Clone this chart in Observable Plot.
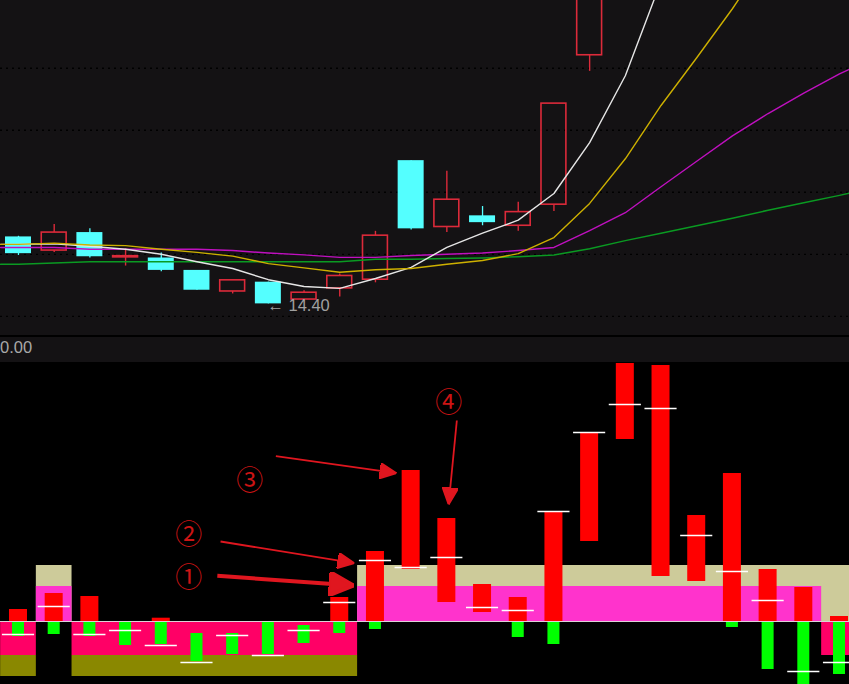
<!DOCTYPE html>
<html><head><meta charset="utf-8">
<script src="https://cdn.jsdelivr.net/npm/d3@7"></script>
<script src="https://cdn.jsdelivr.net/npm/@observablehq/plot@0.6"></script>
<style>
html,body{margin:0;padding:0;background:#000;width:849px;height:684px;overflow:hidden;}
#top{height:335px;background:#141214;}
#sep{height:2px;background:#000;}
#strip{height:25px;background:#141214;position:relative;overflow:hidden;}
#strip span{position:absolute;left:0px;top:2px;font-family:"Liberation Sans";font-size:16.5px;line-height:16.5px;color:#a8a8a8;}
#bottom{height:322px;background:#000;}
svg{display:block}
</style></head><body>
<div id="top"></div><div id="sep"></div><div id="strip"><span id="lbl"></span></div><div id="bottom"></div>
<script>
// ---------- data: top panel (price) ----------
const candleIndex = [0,1,2,3,4,5,6,7,8,9,10,11,12,13,14,15,16];
const candleOpen  = [15.48,15.26,15.55,15.15,15.14,14.94,14.60,14.75,14.47,14.65,14.79,16.71,15.64,15.82,15.66,16.00,18.41];
const candleClose = [15.21,15.55,15.16,15.17,14.94,14.62,14.78,14.40,14.58,14.85,15.50,15.61,16.08,15.71,15.88,17.63,19.39];
const candleHigh  = [15.49,15.68,15.61,15.29,15.22,14.94,14.78,14.75,14.61,14.88,15.57,16.71,16.54,15.97,16.04,17.63,19.39];
const candleLow   = [15.18,15.23,15.14,15.01,14.92,14.62,14.56,14.40,14.44,14.51,14.74,15.59,15.55,15.66,15.57,15.89,18.15];

const periods = [0,1,2,3,4,5,6,7,8,9,10,11,12,13,14,15,16,17,18,19,20,21,22,23];
const ma5  = [15.36,15.37,15.33,15.28,15.20,15.08,14.97,14.79,14.68,14.65,14.81,14.99,15.31,15.54,15.75,16.18,17.00,18.08,19.60,null,null,null,null,null];
const ma10 = [15.36,15.38,15.35,15.34,15.28,15.23,15.17,15.05,14.98,14.91,14.95,14.97,15.04,15.10,15.21,15.47,16.02,16.74,17.60,18.37,19.16,20.02,null,null];
const ma20 = [15.31,15.31,15.28,15.28,15.28,15.28,15.26,15.22,15.19,15.15,15.15,15.18,15.20,15.22,15.26,15.31,15.58,15.87,16.29,16.70,17.11,17.47,17.80,18.11];
const ma60 = [15.04,15.06,15.08,15.08,15.08,15.08,15.08,15.08,15.08,15.08,15.12,15.12,15.13,15.14,15.16,15.19,15.29,15.42,15.54,15.66,15.78,15.91,16.03,16.15];
// readings at the left (-0.5) and right (23.3) chart edges
const edgeIndex = [-0.5, 23.3];
const ma5Edge  = [15.36, null];
const ma10Edge = [15.36, null];
const ma20Edge = [15.31, 18.19];
const ma60Edge = [15.04, 16.19];
const priceGrid = [14.2, 15.2, 16.2, 17.2, 18.2];
const lowMarkIndex = 7;
const stripLabel = "0.00";

// ---------- data: bottom panel (indicator) ----------
const redLo   = [0,0,0,null,0,null,null,null,null,0,0,5.2,1.9,0.9,0,0,8.0,18.2,4.5,4.0,0,0,0,0];
const redHi   = [1.2,2.8,2.5,null,0.33,null,null,null,null,2.4,7.0,15.1,10.3,3.7,2.4,10.9,18.9,25.8,25.6,10.6,14.8,5.2,3.4,0.5];
const greenHi = [0,0,0,0,0,-1.2,-1.2,0,-0.4,0,0,null,null,null,0,0,null,null,null,null,0,0,0,0];
const greenLo = [-1.5,-1.3,-1.5,-2.4,-2.3,-4.0,-3.3,-3.3,-2.2,-1.2,-0.8,null,null,null,-1.6,-2.3,null,null,null,null,-0.6,-4.8,-6.5,-5.3];
const whiteTick = [-1.3,1.5,-1.3,-0.9,-2.4,-4.1,-1.4,-3.4,-0.9,1.9,6.1,5.4,6.4,1.4,1.1,11.0,18.9,21.7,21.3,8.6,5.0,2.1,-5.0,-4.1];
const bandState = ["dn","up","dn","dn","dn","dn","dn","dn","dn","dn","up","up","up","up","up","up","up","up","up","up","up","up","up","mix"];
const khakiTop = 5.6, magentaTop = 3.5, pinkBottom = -3.4, oliveBottom = -5.5;

const noteText = ["①","②","③","④"];
const noteX = [4.77, 4.77, 6.48, 12.05];
const noteV = [4.27, 8.6, 14.0, 21.83];
const arrowFromX = [5.57, 5.66, 7.21, 12.28];
const arrowFromV = [4.57, 8.0, 16.53, 20.1];
const arrowToX   = [9.39, 9.41, 10.59, 12.05];
const arrowToV   = [3.6, 5.83, 14.83, 11.7];

// ---------- colours ----------
const RED_C = "#dc2a3a", CYAN = "#54ffff";
const X_DOMAIN = [-0.504, 23.28];

// ---------- build rows ----------
const candles = candleIndex.map((i, k) => ({i, open: candleOpen[k], close: candleClose[k], high: candleHigh[k], low: candleLow[k]}));
const upC = candles.filter(d => d.close >= d.open);
const dnC = candles.filter(d => d.close < d.open);
function series(vals, edge) {
  const rows = periods.map((i, k) => ({i, v: vals[k]}));
  if (edge[0] != null) rows.unshift({i: edgeIndex[0], v: edge[0]});
  if (edge[1] != null) rows.push({i: edgeIndex[1], v: edge[1]});
  return rows.filter(d => d.v != null);
}
const s5 = series(ma5, ma5Edge), s10 = series(ma10, ma10Edge), s20 = series(ma20, ma20Edge), s60 = series(ma60, ma60Edge);

const topChart = Plot.plot({
  width: 849, height: 335, margin: 0,
  x: {domain: X_DOMAIN, axis: null},
  y: {domain: [13.89, 19.293], axis: null},
  style: {background: "#141214", overflow: "hidden"},
  marks: [
    Plot.ruleY(priceGrid, {stroke: "#000", strokeWidth: 1.3, strokeDasharray: "2,4"}),
    // cyan (down) candles
    Plot.ruleX(dnC, {x: "i", y1: "low", y2: "high", stroke: CYAN, strokeWidth: 1.3, clip: true}),
    Plot.rect(dnC, {x1: d => d.i - 0.5, x2: d => d.i + 0.5, y1: "open", y2: "close", insetLeft: 4.85, insetRight: 4.85, fill: CYAN, clip: true}),
    // red (up) hollow candles
    Plot.ruleX(upC, {x: "i", y1: d => Math.max(d.open, d.close), y2: "high", stroke: RED_C, strokeWidth: 1.4, clip: true}),
    Plot.ruleX(upC, {x: "i", y1: "low", y2: d => Math.min(d.open, d.close), stroke: RED_C, strokeWidth: 1.4, clip: true}),
    Plot.rect(upC, {x1: d => d.i - 0.5, x2: d => d.i + 0.5, y1: "open", y2: "close", insetLeft: 5.4, insetRight: 5.4, fill: "none", stroke: RED_C, strokeWidth: 1.6, clip: true}),
    // moving averages
    Plot.line(s60, {x: "i", y: "v", stroke: "#0a9a22", strokeWidth: 1.5, clip: true}),
    Plot.line(s20, {x: "i", y: "v", stroke: "#c010c0", strokeWidth: 1.4, clip: true}),
    Plot.line(s5,  {x: "i", y: "v", stroke: "#e6e6e6", strokeWidth: 1.4, clip: true}),
    Plot.line(s10, {x: "i", y: "v", stroke: "#cdb000", strokeWidth: 1.4, clip: true}),
    Plot.text([candles[lowMarkIndex]], {x: "i", y: "low", text: d => "← " + d.low.toFixed(2), textAnchor: "start", lineAnchor: "middle", dx: -1, dy: 2, fill: "#a0a0a0", fontSize: 16.5, fontFamily: "Liberation Sans"})
  ]
});
document.getElementById("top").appendChild(topChart);
document.getElementById("lbl").textContent = stripLabel;

// bands merged into runs
function runs(test) {
  const out = []; let start = null;
  periods.forEach((i, k) => {
    const on = test(bandState[k]);
    if (on && start == null) start = i;
    if ((!on || k === periods.length - 1) && start != null) {
      const end = on ? i : periods[k - 1];
      out.push({a: start - 0.5, b: end + 0.5}); start = null;
    }
  });
  return out;
}
const khakiRuns = runs(s => s === "up" || s === "mix");
const magentaRuns = runs(s => s === "up");
const pinkRuns = runs(s => s === "dn" || s === "mix");
const oliveRuns = runs(s => s === "dn");

const reds = periods.map((i, k) => ({i, lo: redLo[k], hi: redHi[k]})).filter(d => d.hi != null);
const greens = periods.map((i, k) => ({i, hi: greenHi[k], lo: greenLo[k]})).filter(d => d.lo != null);
const ticks = periods.map((i, k) => ({i, v: whiteTick[k]}));
const notes = noteText.map((t, k) => ({t, x: noteX[k], v: noteV[k]}));
const arrows = noteText.map((t, k) => ({x1: arrowFromX[k], y1: arrowFromV[k], x2: arrowToX[k], y2: arrowToV[k]}));

function headMarker(len, wid) {
  return (color) => {
    const m = d3.create("svg:marker")
      .attr("viewBox", `0 ${-wid / 2} ${len} ${wid}`)
      .attr("markerWidth", len).attr("markerHeight", wid)
      .attr("markerUnits", "userSpaceOnUse")
      .attr("refX", len).attr("refY", 0)
      .attr("orient", "auto");
    m.append("path").attr("d", `M0,${-wid / 2}L${len},0L0,${wid / 2}Z`).attr("fill", color);
    return m.node();
  };
}
const ARROW = "#e0161f";

const bottomChart = Plot.plot({
  width: 849, height: 322, margin: 0,
  x: {domain: X_DOMAIN, axis: null},
  y: {domain: [-6.3, 25.9], axis: null},
  style: {background: "#000", overflow: "hidden"},
  marks: [
    Plot.rect(khakiRuns, {x1: "a", x2: "b", y1: 0, y2: () => khakiTop, fill: "#cdcb9a", clip: true}),
    Plot.rect(magentaRuns, {x1: "a", x2: "b", y1: 0, y2: () => magentaTop, fill: "#ff33cc", clip: true}),
    Plot.rect(pinkRuns, {x1: "a", x2: "b", y1: 0, y2: () => pinkBottom, fill: "#ff0066", clip: true}),
    Plot.rect(oliveRuns, {x1: "a", x2: "b", y1: () => pinkBottom, y2: () => oliveBottom, fill: "#8a8800", clip: true}),
    Plot.rect(reds, {x1: d => d.i - 0.5, x2: d => d.i + 0.5, y1: "lo", y2: "hi", insetLeft: 8.85, insetRight: 8.85, fill: "#ff0000", clip: true}),
    Plot.rect(greens, {x1: d => d.i - 0.5, x2: d => d.i + 0.5, y1: "hi", y2: "lo", insetLeft: 11.85, insetRight: 11.85, fill: "#00ff00", clip: true}),
    Plot.ruleY([0], {stroke: "#ddd0d8", strokeWidth: 1}),
    Plot.ruleY(ticks, {y: "v", x1: d => d.i - 0.45, x2: d => d.i + 0.45, stroke: "#ffffff", strokeWidth: 1.6, clip: true}),
    Plot.link(arrows.slice(0, 1), {x1: "x1", y1: "y1", x2: "x2", y2: "y2", stroke: ARROW, strokeWidth: 4, markerEnd: headMarker(25, 24)}),
    Plot.link(arrows.slice(1), {x1: "x1", y1: "y1", x2: "x2", y2: "y2", stroke: ARROW, strokeWidth: 1.8, markerEnd: headMarker(17, 16)}),
    Plot.text(notes, {x: "x", y: "v", text: "t", fill: "#cc1414", fontSize: 27, fontFamily: "Noto Sans CJK SC", lineAnchor: "middle", textAnchor: "middle"})
  ]
});
document.getElementById("bottom").appendChild(bottomChart);
</script></body></html>
